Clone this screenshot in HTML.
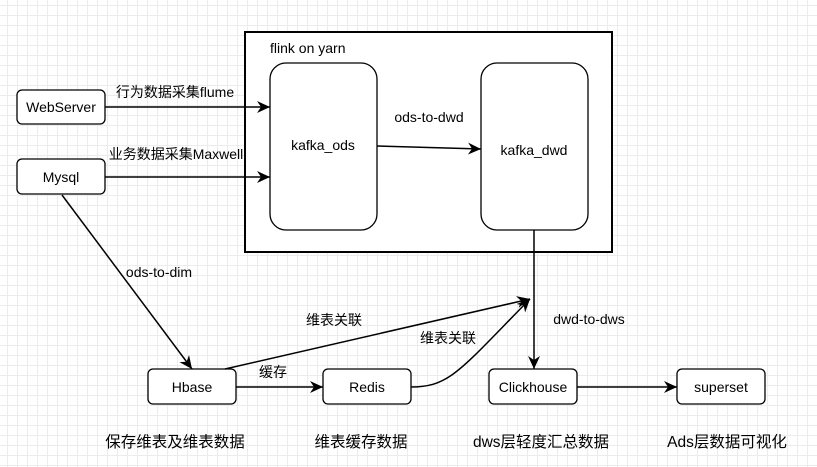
<!DOCTYPE html>
<html><head><meta charset="utf-8"><style>
body{margin:0;width:817px;height:467px;overflow:hidden;background:#fff;
background-image:linear-gradient(#ececec 1px,transparent 1px),linear-gradient(90deg,#ececec 1px,transparent 1px);background-size:10px 10px;background-position:-3px -5px;}
svg{position:absolute;left:0;top:0}
text{font-family:"Liberation Sans","Noto Sans CJK SC",sans-serif;font-size:14px;fill:#000}
.b{font-size:15.5px}
</style></head><body>
<svg width="817" height="467">
<defs><marker id="a" markerWidth="14" markerHeight="14" refX="13" refY="6" orient="auto" markerUnits="userSpaceOnUse"><path d="M0,0 L13,6 L0,12 L4,6 Z" fill="#000"/></marker></defs>
<g fill="#fff" stroke="#000" stroke-width="1.3">
<rect x="245" y="32" width="367" height="220" stroke-width="2"/>
<rect x="17" y="90" width="88" height="34" rx="5"/>
<rect x="17" y="159" width="88" height="35" rx="5"/>
<rect x="270" y="63" width="107" height="167" rx="16"/>
<rect x="481" y="63" width="107" height="167" rx="16"/>
<rect x="148" y="369" width="88" height="35" rx="5"/>
<rect x="323" y="369" width="88" height="35" rx="5"/>
<rect x="489" y="369" width="88" height="35" rx="5"/>
<rect x="677" y="369" width="88" height="35" rx="5"/>
</g>
<g stroke="#000" stroke-width="1.5" fill="none" marker-end="url(#a)">
<line x1="105" y1="107" x2="270" y2="107"/>
<line x1="105" y1="177" x2="270" y2="177"/>
<line x1="377" y1="146" x2="481" y2="149"/>
<line x1="62" y1="195" x2="192" y2="369"/>
<line x1="225" y1="369" x2="530" y2="299"/>
<path d="M411 387 C450 387 460 370 530 299"/>
<line x1="534" y1="230" x2="534" y2="369"/>
<line x1="236" y1="387" x2="323" y2="387"/>
<line x1="577" y1="387" x2="677" y2="387"/>
</g>
<text x="61" y="112" text-anchor="middle">WebServer</text>
<text x="61" y="182" text-anchor="middle">Mysql</text>
<text x="270" y="53">flink on yarn</text>
<text x="323" y="150" text-anchor="middle">kafka_ods</text>
<text x="534" y="155" text-anchor="middle">kafka_dwd</text>
<text x="429" y="122" text-anchor="middle">ods-to-dwd</text>
<text x="175" y="97" text-anchor="middle">行为数据采集flume</text>
<text x="176" y="159" text-anchor="middle">业务数据采集Maxwell</text>
<text x="159" y="277" text-anchor="middle">ods-to-dim</text>
<text x="334" y="325" text-anchor="middle">维表关联</text>
<text x="448" y="343" text-anchor="middle">维表关联</text>
<text x="273" y="377" text-anchor="middle">缓存</text>
<text x="589" y="324" text-anchor="middle">dwd-to-dws</text>
<text x="192" y="392" text-anchor="middle">Hbase</text>
<text x="367" y="392" text-anchor="middle">Redis</text>
<text x="533" y="392" text-anchor="middle">Clickhouse</text>
<text x="721" y="392" text-anchor="middle">superset</text>
<text class="b" x="175" y="447" text-anchor="middle">保存维表及维表数据</text>
<text class="b" x="361" y="447" text-anchor="middle">维表缓存数据</text>
<text class="b" x="541" y="447" text-anchor="middle">dws层轻度汇总数据</text>
<text class="b" x="727" y="447" text-anchor="middle">Ads层数据可视化</text>
</svg>
</body></html>
